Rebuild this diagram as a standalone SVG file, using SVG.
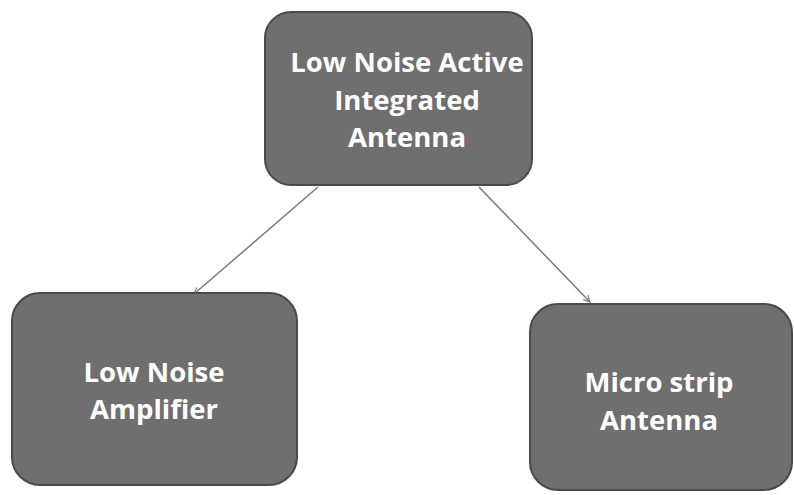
<svg xmlns="http://www.w3.org/2000/svg" width="794" height="495" viewBox="0 0 794 495">
<style>
.box{fill:#6f6f6f;stroke:#4a4a4a;stroke-width:2}
.t{font-family:"Open Sans","Liberation Sans",sans-serif;font-weight:bold;font-size:27.5px;fill:#ffffff;text-anchor:middle}
.c{stroke:#7a7a7a;stroke-width:1.5;fill:none;marker-end:url(#ah)}
</style>
<defs>
<marker id="ah" viewBox="0 0 10 10" refX="9" refY="5" markerWidth="8" markerHeight="8" markerUnits="userSpaceOnUse" orient="auto">
<path d="M1,1 L9,5 L1,9" fill="none" stroke="#7a7a7a" stroke-width="1.5"/>
</marker>
</defs>
<rect width="794" height="495" fill="#ffffff"/>
<g id="connectors">
<line class="c" x1="318" y1="187" x2="194" y2="294"/>
<line class="c" x1="479" y1="187" x2="590" y2="302"/>
</g>
<g id="top">
<rect class="box" x="265" y="12" width="267" height="173" rx="26"/>
<text class="t" x="407" y="72">Low Noise Active</text>
<text class="t" x="407" y="110">Integrated</text>
<text class="t" x="407" y="147">Antenna</text>
</g>
<g id="lna">
<rect class="box" x="12" y="293" width="285" height="192" rx="28"/>
<text class="t" x="154" y="382">Low Noise</text>
<text class="t" x="154" y="419">Amplifier</text>
</g>
<g id="msa">
<rect class="box" x="530" y="304" width="262" height="186" rx="28"/>
<text class="t" x="659" y="392">Micro strip</text>
<text class="t" x="659" y="430">Antenna</text>
</g>
</svg>
